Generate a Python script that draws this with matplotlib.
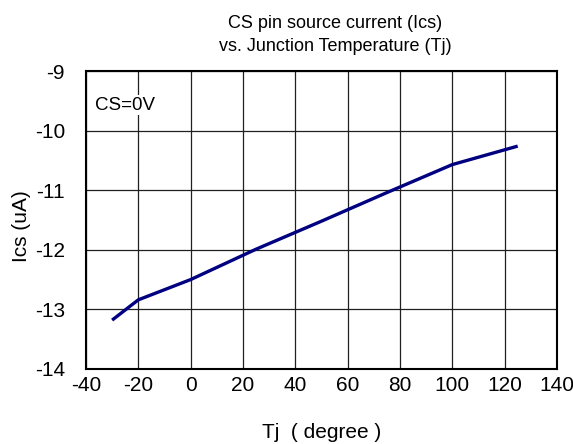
import matplotlib
matplotlib.use("Agg")
import matplotlib.pyplot as plt

plt.rcParams['font.family'] = ['Liberation Sans', 'DejaVu Sans']
plt.rcParams['axes.unicode_minus'] = False

# junction temperature (degC) and CS pin source current (uA)
tj = [-30, -20, 0, 25, 50, 75, 100, 125]
ics = [-13.18, -12.84, -12.50, -11.99, -11.52, -11.04, -10.57, -10.26]

xticks = [-40, -20, 0, 20, 40, 60, 80, 100, 120, 140]
yticks = [-14, -13, -12, -11, -10, -9]

fig = plt.figure(figsize=(5.73, 4.44), dpi=100)
ax = fig.add_axes([0.150, 0.169, 0.822, 0.671])

ax.plot(tj, ics, color='#000080', linewidth=2.4, solid_capstyle='butt')

ax.set_xlim(-40, 140)
ax.set_ylim(-14, -9)
ax.set_xticks(xticks)
ax.set_yticks(yticks)
ax.tick_params(length=0, labelsize=15)
ax.tick_params(axis='x', pad=5)
ax.tick_params(axis='y', pad=15)
ax.grid(True, color='#202020', linewidth=0.9)
ax.set_axisbelow(True)
for s in ax.spines.values():
    s.set_linewidth(1.5)
    s.set_color('black')

ax.text(-36.5, -9.57, 'CS=0V', fontsize=13.5, va='center', ha='left',
        bbox=dict(facecolor='white', edgecolor='none', pad=1))

ax.set_xlabel('Tj  ( degree )', fontsize=15, labelpad=20)
ax.set_ylabel('Ics (uA)', fontsize=15)
ax.yaxis.set_label_coords(-0.117, 0.48)

fig.text(0.585, 0.947, 'CS pin source current (Ics)', ha='center', va='center', fontsize=13)
fig.text(0.585, 0.896, 'vs. Junction Temperature (Tj)', ha='center', va='center', fontsize=13)

fig.savefig('out.png', dpi=100)
